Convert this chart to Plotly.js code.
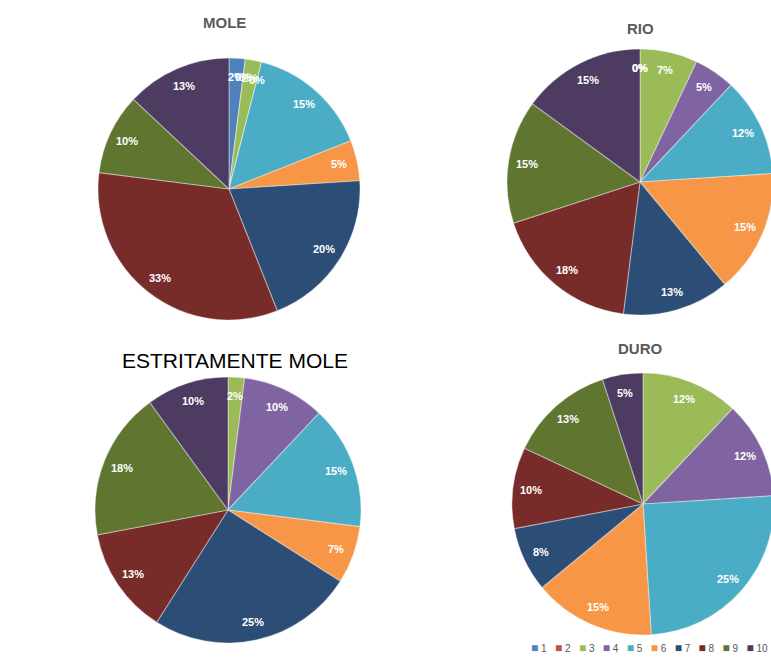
<!DOCTYPE html>
<html><head><meta charset="utf-8">
<script src="https://cdn.plot.ly/plotly-3.0.1.min.js"></script>
<style>html,body{margin:0;padding:0;overflow:hidden;background:#fff}#chart{width:790px;height:658px}</style>
</head><body><div id="chart"></div>
<script>
const categories = ['1','2','3','4','5','6','7','8','9','10'];
const colors = ['#4F81BD','#C0504D','#9BBB59','#8064A2','#4BACC6','#F79646','#2C4D75','#772C2A','#5F7530','#4D3B62'];
const titles = ['MOLE','RIO','ESTRITAMENTE MOLE','DURO'];
// percent values per category (null = not present)
const moleValues   = [2, 0, 2, 0, 15, 5, 20, 33, 10, 13];
const rioValues    = [0, 0, 7, 5, 12, 15, 13, 18, 15, 15];
const estritValues = [null, null, 2, 10, 15, 7, 25, 13, 18, 10];
const duroValues   = [null, null, 12, 12, 25, 15, 8, 10, 13, 5];

const W = 790, H = 658;
const FONT = 'Liberation Sans, Arial, sans-serif';
// pie centres / radii in px
const geo = [
  {cx: 229, cy: 189, r: 131},
  {cx: 640, cy: 182, r: 133},
  {cx: 228, cy: 510, r: 133},
  {cx: 643, cy: 504, r: 131}
];
const series = [moleValues, rioValues, estritValues, duroValues];

const traces = series.map((vals, i) => {
  const g = geo[i];
  return {
    type: 'pie',
    labels: categories,
    values: vals,
    sort: false,
    direction: 'clockwise',
    rotation: 0,
    marker: {colors: colors, line: {color: 'rgba(255,255,255,0.35)', width: 1.2}},
    textinfo: 'none',
    hoverinfo: 'label+percent',
    showlegend: false,
    domain: {
      x: [(g.cx - g.r) / W, (g.cx + g.r) / W],
      y: [(H - g.cy - g.r) / H, (H - g.cy + g.r) / H]
    }
  };
});

const annotations = [];
// slice percentage labels, placed at each slice's mid-angle (clockwise from 12 o'clock)
series.forEach((vals, i) => {
  const g = geo[i];
  const total = vals.reduce((s, v) => s + (v == null ? 0 : v), 0);
  let cum = 0;
  vals.forEach((v) => {
    if (v == null) return;
    const mid = (cum + v / 2) / total * 2 * Math.PI;
    cum += v;
    const rr = 0.86 * g.r;
    const px = g.cx + rr * Math.sin(mid);
    const py = g.cy - rr * Math.cos(mid);
    annotations.push({
      text: '<b>' + v + '%</b>',
      x: px / W, y: (H - py) / H, xref: 'paper', yref: 'paper',
      xanchor: 'center', yanchor: 'middle', showarrow: false,
      font: {family: FONT, size: 11, color: '#ffffff'}
    });
  });
});

const titlePos = [
  {x: 224, y: 22, bold: true},
  {x: 640, y: 29, bold: true},
  {x: 235, y: 360, bold: false},
  {x: 640, y: 348, bold: true}
];
titles.forEach((t, i) => {
  const p = titlePos[i];
  annotations.push({
    text: p.bold ? '<b>' + t + '</b>' : t,
    x: p.x / W, y: (H - p.y) / H, xref: 'paper', yref: 'paper',
    xanchor: 'center', yanchor: 'middle', showarrow: false,
    font: p.bold ? {family: FONT, size: 15, color: '#595959'}
                 : {family: FONT, size: 21, color: '#000000'}
  });
});

// legend row built from categories and colours
const legendText = categories.map((c, i) =>
  '<span style="color:' + colors[i] + ';font-size:12px">\u25A0</span>\u00a0' + c).join('\u00a0\u00a0\u00a0');
annotations.push({
  text: legendText,
  x: 529 / W, y: (H - 648) / H, xref: 'paper', yref: 'paper',
  xanchor: 'left', yanchor: 'middle', showarrow: false,
  font: {family: FONT, size: 10, color: '#595959'}
});

const layout = {
  width: W, height: H,
  margin: {l: 0, r: 0, t: 0, b: 0},
  paper_bgcolor: '#ffffff',
  annotations: annotations,
  showlegend: false
};
Plotly.newPlot('chart', traces, layout, {displayModeBar: false, staticPlot: true});
</script></body></html>
